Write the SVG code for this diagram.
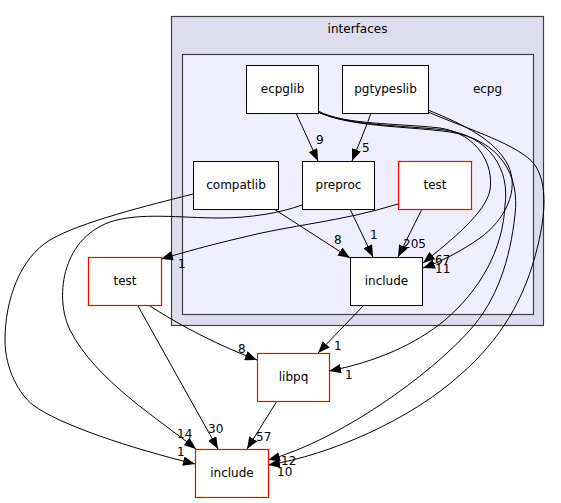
<svg xmlns="http://www.w3.org/2000/svg" width="561" height="503" viewBox="0 0 561 503">
<defs>
<style>
text{font-family:"DejaVu Sans","Liberation Sans",sans-serif;font-size:12px;fill:#000}
.mid{text-anchor:middle}
.node{fill:#fff;stroke:#000;stroke-width:1}
.red{fill:#fff;stroke:#ff0000;stroke-width:1.2}
.edge{fill:none;stroke:#000;stroke-width:1;marker-end:url(#arr)}
</style>
<marker id="arr" viewBox="0 0 12 9.5" refX="12" refY="4.75" markerWidth="12" markerHeight="9.5" markerUnits="userSpaceOnUse" orient="auto">
<path d="M0,0 L12,4.75 L0,9.5 z" fill="#000"/>
</marker>
</defs>
<rect width="561" height="503" fill="#fff"/>
<g id="cluster-interfaces">
<rect x="171.5" y="16.5" width="372" height="309" fill="#ddddee" stroke="#404040" stroke-width="1.2"/>
<text class="mid" x="357.5" y="33">interfaces</text>
</g>
<g id="cluster-ecpg">
<rect x="182.5" y="54.5" width="351" height="260" fill="#eeeeff" stroke="#404040" stroke-width="1.2"/>
<text class="mid" x="487.5" y="93">ecpg</text>
</g>
<g id="connectors">
<path class="edge" d="M296,113 L318,161"/>
<path class="edge" d="M371,113 C366,128 358,146 352,161"/>
<path class="edge" d="M274,209 L350,258"/>
<path class="edge" d="M350,209 L373,257"/>
<path class="edge" d="M422,209 L398,257"/>
<path class="edge" d="M318,111 C345,125 395,123 440,128 C478,134 494,165 490,190 C486,212 452,240 423,263"/>
<path class="edge" d="M428,110 C465,125 495,140 508,165 C520,190 505,220 480,238 C460,252 440,262 423,268"/>
<path class="edge" d="M318,112 C350,126 400,125 445,130 C490,136 510,170 505,205 C503,250 480,290 445,320 C415,345 375,362 329,371"/>
<path class="edge" d="M318,112 C350,127 405,126 450,132 C500,140 520,175 515,215 C510,260 497,300 470,330 C430,375 340,440 268,460"/>
<path class="edge" d="M428,112 C470,130 520,145 535,165 C548,185 545,215 538,245 C525,300 500,340 460,375 C410,420 330,455 268,465"/>
<path class="edge" d="M398,204 C340,222 290,225 240,238 C210,245 185,252 161,259"/>
<path class="edge" d="M364,305 L318,353"/>
<path class="edge" d="M150,306 C175,322 210,342 257,360"/>
<path class="edge" d="M138,306 L218,449"/>
<path class="edge" d="M277,401 L247,449"/>
<path class="edge" d="M302,205 C280,213 250,218 220,218 C180,218 140,212 110,222 C60,240 55,300 70,330 C95,380 160,420 196,449"/>
<path class="edge" d="M193,194 C150,205 80,222 50,240 C20,258 5,300 5,340 C5,370 20,395 33,405 C60,425 130,448 195,464"/>
<text x="316" y="144">9</text>
<text x="362" y="152">5</text>
<text x="334" y="244">8</text>
<text x="370" y="239">1</text>
<text x="403" y="248">205</text>
<text x="435" y="264">67</text>
<text x="435" y="273">11</text>
<text x="178" y="268">1</text>
<text x="334" y="350">1</text>
<text x="345" y="379">1</text>
<text x="238" y="353">8</text>
<text x="208" y="433">30</text>
<text x="256" y="441">57</text>
<text x="177" y="438">14</text>
<text x="177" y="456">1</text>
<text x="281" y="465">12</text>
<text x="277" y="476">10</text>
</g>
<g id="ecpglib"><rect class="node" x="246.5" y="65.5" width="72" height="48"/><text class="mid" x="282.5" y="93">ecpglib</text></g>
<g id="pgtypeslib"><rect class="node" x="342.5" y="65.5" width="86" height="48"/><text class="mid" x="385.5" y="93">pgtypeslib</text></g>
<g id="compatlib"><rect class="node" x="193.5" y="161.5" width="85" height="48"/><text class="mid" x="236" y="189">compatlib</text></g>
<g id="preproc"><rect class="node" x="302.5" y="161.5" width="72" height="48"/><text class="mid" x="338.5" y="189">preproc</text></g>
<g id="test-inner"><rect class="red" x="398.5" y="161.5" width="73" height="48"/><text class="mid" x="435" y="189">test</text></g>
<g id="include-inner"><rect class="node" x="350.5" y="257.5" width="72" height="48"/><text class="mid" x="386.5" y="285">include</text></g>
<g id="test-outer"><rect class="red" x="88.5" y="257.5" width="73" height="48"/><text class="mid" x="125" y="285">test</text></g>
<g id="libpq"><rect class="red" x="257.5" y="353.5" width="72" height="48"/><text class="mid" x="293.5" y="381">libpq</text></g>
<g id="include-bottom"><rect class="red" x="195.5" y="449.5" width="73" height="48"/><text class="mid" x="232" y="477">include</text></g>
</svg>
